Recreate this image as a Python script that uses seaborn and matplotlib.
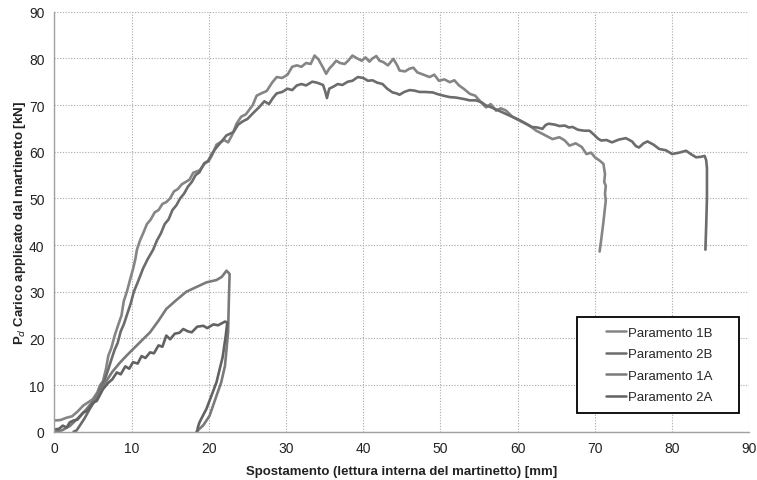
import matplotlib
matplotlib.use("Agg")
import matplotlib.pyplot as plt
import seaborn as sns
import pandas as pd
from matplotlib.patches import Rectangle
from matplotlib.lines import Line2D

# ---- data ----
x_1B = [0, 0.8, 1.6, 2.3, 3, 3.75, 4.4, 5, 5.6, 5.9, 6.3, 6.7, 7.0, 7.4, 7.8, 8.2, 8.7, 9.0, 9.4, 9.8,
        10.2, 10.5, 10.7, 11.1, 11.5, 12, 12.5, 13, 13.5, 14, 14.5, 15, 15.5, 16, 16.5, 17, 17.5, 18, 18.8,
        19.5, 20, 20.5, 21, 21.5, 22, 22.5, 23, 23.6, 24.2, 24.8, 25.7, 26.2, 26.8, 27.5, 28.2, 28.8, 29.5,
        30.2, 30.8, 31.4, 32, 32.6, 33.2, 33.7, 34.2, 34.8, 35.2, 35.6, 36.0, 36.5, 37, 37.6, 38.1, 38.6,
        39.2, 39.8, 40.3, 40.8, 41.2, 41.7, 42.1, 42.6, 43.2, 43.9, 44.4, 44.7, 45.4, 46, 46.5, 47, 47.8,
        48.6, 49.2, 49.8, 50.5, 51.2, 51.8, 52.4, 53, 53.8, 54.5, 55.3, 55.9, 56.5, 57.2, 57.8, 58.5, 59.3,
        60.3, 61, 61.6, 62.4, 63, 63.8, 64.5, 65.4, 66.1, 66.7, 67.5, 68.3, 68.9, 69.5, 70, 70.6, 71.1,
        71.3, 71.2, 71.4, 71.3, 71.4, 71.1, 70.8, 70.6]
y_1B = [2.4, 2.5, 3.0, 3.3, 4.3, 5.6, 6.3, 7, 8.5, 9.9, 10.8, 13.5, 16.3, 18, 20.5, 22.5, 24.9, 28, 30, 32.5,
        34.9, 37, 39, 41, 42.5, 44.5, 45.5, 47, 47.5, 48.8, 49.2, 50, 51.5, 52, 53, 53.5, 54, 55.5, 56,
        57.5, 58, 59.5, 61.5, 62, 62.5, 62, 63.5, 66, 67.5, 68, 70, 72, 72.5, 73, 74.8, 76, 75.8,
        76.5, 78.2, 78.5, 78.2, 79, 78.8, 80.6, 79.8, 78, 76.7, 77.8, 78.5, 79.5, 79, 78.8, 79.6, 80.6,
        80, 79.5, 80.2, 79.3, 80, 80.5, 79.5, 79.2, 78.5, 79.9, 78.5, 77.4, 77.2, 77.8, 78, 77, 76.5,
        76, 76.5, 75.2, 75.5, 74.9, 75.3, 74.2, 73.5, 72.4, 72, 70.5, 69.5, 70.2, 68.8, 69.3, 68.8, 67.5,
        66.6, 66, 65.5, 64.5, 64, 63.3, 62.7, 63.1, 62.4, 61.3, 61.8, 61, 59.5, 59.8, 58.8, 58.1, 57.4,
        55.2, 53.5, 52.7, 51, 49.5, 45, 41, 38.6]

x_2B = [2.5, 2.9, 3.3, 3.9, 4.6, 5.2, 5.9, 6.5, 7.0, 7.4, 7.8, 8.2, 8.6, 9.0, 9.4, 9.9, 10.3, 10.8, 11.5,
        12.1, 12.8, 13.3, 13.8, 14.3, 14.8, 15.3, 15.8, 16.3, 16.8, 17.3, 17.8, 18.3, 18.8, 19.4, 19.9, 20.4,
        20.8, 21.3, 21.8, 22.3, 22.7, 23.2, 23.8, 24.4, 25.0, 25.7, 26.5, 27.2, 27.8, 28.3, 28.8, 29.5, 30.2,
        30.8, 31.4, 32, 32.6, 33.4, 34, 34.8, 35.1, 35.3, 35.6, 36.2, 36.7, 37.3, 38, 38.6, 39.3, 40, 40.6,
        41.2, 41.8, 42.5, 43.1, 43.8, 44.3, 44.7, 45.3, 46, 46.6, 47.3, 48, 49, 49.7, 50.4, 51.2, 52, 53,
        53.8, 54.6, 55.3, 55.9, 56.6, 57.4, 58.5, 59.4, 60.2, 61.1, 61.8, 62.5, 63.2, 63.6, 64, 64.8, 65.4,
        66.1, 66.6, 67.1, 67.8, 68.6, 69.3, 69.9, 70.4, 70.8, 71.5, 72.2, 73.1, 74, 74.8, 75.3, 75.7, 76.3,
        76.8, 77.6, 78.3, 79.2, 80, 80.9, 81.8, 82.4, 83.1, 83.7, 84.2, 84.4, 84.5, 84.5, 84.4, 84.3]
y_2B = [0, 0.3, 1.3, 2.8, 4.9, 6.5, 9.1, 11, 13.4, 15.5, 17.5, 19, 21.5, 23, 25, 27.5, 30, 32, 35,
        37, 39, 41, 42.5, 44.5, 45.5, 47.5, 48.5, 50, 51, 52.5, 53.5, 55, 55.6, 57.5, 58, 59.5,
        60.5, 61.5, 62.5, 63.5, 63.8, 64.2, 65.8, 66.5, 67, 68.2, 69.5, 70.8, 70.2, 71.5, 72.5, 72.8, 73.5,
        73.2, 74.2, 74.5, 74.2, 75, 74.8, 74.3, 72.8, 71.5, 73.5, 74, 74.5, 74.3, 75, 75.2, 76, 75.8, 75.2,
        75.3, 74.8, 74.5, 73.5, 72.7, 72.5, 72.2, 72.8, 73.2, 73.1, 72.8, 72.8, 72.7, 72.3, 72, 71.7, 71.6, 71.3,
        71, 71, 70.6, 69.9, 69.5, 68.9, 68.1, 67.4, 66.8, 66, 65.3, 65.2, 64.9, 65.7, 66, 65.8, 65.5,
        65.6, 65.2, 65.3, 64.7, 64.5, 64.5, 63.6, 62.8, 62.4, 62.5, 62, 62.6, 62.9, 62.2, 61.2, 60.9, 61.8,
        62.2, 61.5, 60.6, 60.3, 59.5, 59.8, 60.2, 59.5, 58.8, 58.9, 59.1, 58.2, 56.5, 50, 44, 39]

x_1A = [0, 1, 2, 3, 4, 5, 6, 6.6, 7.5, 8.5, 9.3, 10.2, 11.3, 12.4, 13.5, 14.5, 15.8, 17.1, 18.4, 19.7,
        21, 21.7, 22.3, 22.7, 22.6, 22.5, 22.1, 21.6, 21, 20.1, 19.3, 18.4]
y_1A = [0, 0.3, 1.2, 2.8, 4.5, 6.5, 8.8, 10.5, 12.8, 14.8, 16.2, 17.7, 19.5, 21.3, 23.8, 26.3, 28.2, 30, 31, 32,
        32.5, 33.2, 34.5, 33.8, 28, 21.3, 14.1, 10.5, 7.7, 3.4, 1.4, 0]

x_2A = [0, 0.6, 1.1, 1.6, 2.0, 2.5, 3.0, 3.75, 4.3, 5, 5.5, 6.3, 7, 7.5, 8.1, 8.6, 9.2, 9.7, 10.2, 10.8,
        11.3, 11.8, 12.4, 12.9, 13.5, 14, 14.5, 15.0, 15.6, 16.2, 16.7, 17.3, 17.8, 18.5, 19.3, 19.8, 20.6,
        21.2, 22.1, 22.4, 22.2, 21.8, 21, 20.3, 19.7, 19.2, 18.8, 18.6, 18.5]
y_2A = [0.5, 0.6, 1.3, 0.9, 2.0, 2.4, 2.6, 4.1, 4.5, 6.2, 6.6, 9.1, 10.5, 11.2, 12.7, 12.3, 14, 13.5, 14.9, 14.6,
        16.2, 15.8, 17, 16.8, 18.5, 18.2, 20.6, 19.8, 21, 21.2, 22, 21.5, 21.3, 22.5, 22.7, 22.2, 23,
        22.8, 23.6, 23.4, 20.6, 16, 10.6, 7.5, 4.9, 3.3, 2, 1.0, 0]

series_names = ["Paramento 1B", "Paramento 2B", "Paramento 1A", "Paramento 2A"]
x_ticks = [0, 10, 20, 30, 40, 50, 60, 70, 80, 90]
y_ticks = [0, 10, 20, 30, 40, 50, 60, 70, 80, 90]

frames = []
for name, xs, ys in zip(series_names, [x_1B, x_2B, x_1A, x_2A], [y_1B, y_2B, y_1A, y_2A]):
    frames.append(pd.DataFrame({"x": xs, "y": ys, "serie": name}))
df = pd.concat(frames, ignore_index=True)

colors = {"Paramento 1B": "#858585", "Paramento 2B": "#6c6c6c",
          "Paramento 1A": "#7a7a7a", "Paramento 2A": "#626262"}

sns.set_style("white")
plt.rcParams["font.family"] = ["Liberation Sans", "DejaVu Sans"]

fig = plt.figure(figsize=(7.57, 4.81), dpi=100)
ax = fig.add_axes([0.0717, 0.1004, 0.9183, 0.8732])

sns.lineplot(data=df, x="x", y="y", hue="serie", palette=colors, sort=False,
             estimator=None, units="serie", linewidth=1.9, ax=ax, legend=False)

ax.set_xlim(0, 90)
ax.set_ylim(0, 90)
ax.set_xticks(x_ticks)
ax.set_yticks(y_ticks)
ax.tick_params(axis="both", labelsize=10, labelcolor="#222222", length=3, width=0.8, pad=4, color="#aaaaaa")
ax.grid(True, linestyle=(0, (1, 1.5)), color="#a8a8a8", linewidth=0.8)
ax.set_axisbelow(True)
for s in ["top", "right"]:
    ax.spines[s].set_visible(False)
for s in ["left", "bottom"]:
    ax.spines[s].set_color("#a0a0a0")
    ax.spines[s].set_linewidth(1.0)

ax.set_xlabel("Spostamento (lettura interna del martinetto) [mm]", fontsize=9.5, fontweight="bold",
              labelpad=7, color="#222222")
ax.set_ylabel("P$_d$ Carico applicato dal martinetto [kN]", fontsize=9.5, fontweight="bold",
              labelpad=1, color="#222222")

# legend frame
rx0, ry0, rx1, ry1 = 0.7517, 0.0438, 0.9856, 0.2738
ax.add_patch(Rectangle((rx0, ry0), rx1 - rx0, ry1 - ry0, transform=ax.transAxes,
                       facecolor="white", edgecolor="black", linewidth=1.3, zorder=5))
handles = [Line2D([0], [0], color=colors[n], linewidth=1.8) for n in series_names]
leg = ax.legend(handles, series_names, loc="center", bbox_to_anchor=((rx0 + rx1) / 2 + 0.002, (ry0 + ry1) / 2),
                frameon=False, fontsize=9.5, handlelength=1.5, handletextpad=0.15, labelspacing=0.7)
leg.set_zorder(6)

fig.savefig("out.png", dpi=100)
